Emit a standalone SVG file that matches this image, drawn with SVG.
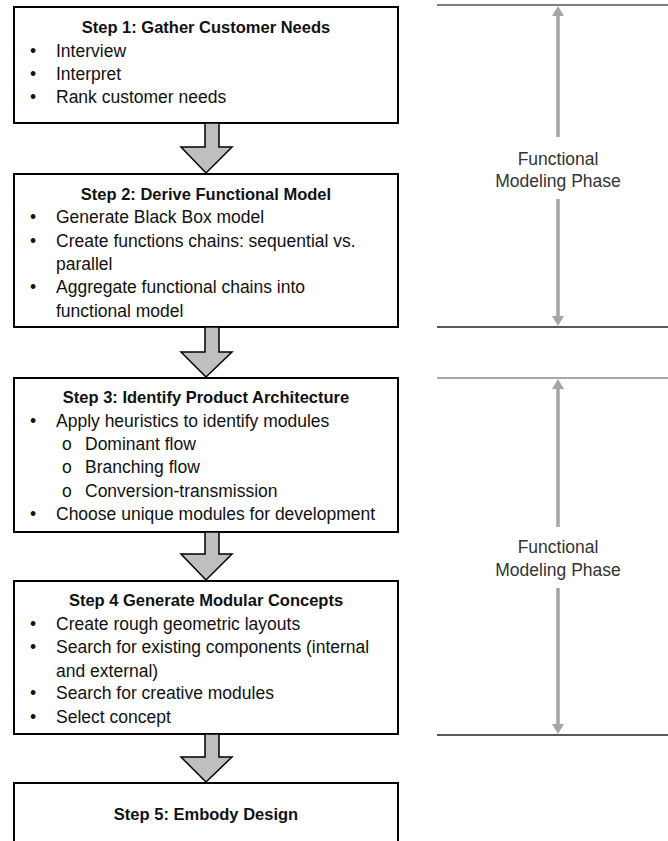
<svg xmlns="http://www.w3.org/2000/svg" width="668" height="841" viewBox="0 0 668 841">
  <style>
    .box { fill: #ffffff; stroke: #000000; stroke-width: 2; }
    .hd { font-family: "Liberation Sans", Arial, sans-serif; font-weight: bold; font-size: 16.5px; fill: #111111; text-anchor: middle; }
    .tx { font-family: "Liberation Sans", Arial, sans-serif; font-size: 17.5px; fill: #111111; }
    .lbl { font-family: "Liberation Sans", Arial, sans-serif; font-size: 17.5px; fill: #333333; text-anchor: middle; }
    .flow { fill: #bfbfbf; stroke: #000000; stroke-width: 1.5; stroke-linejoin: miter; }
    .span { stroke: #a6a6a6; stroke-width: 3.5; fill: none; }
  </style>
  <defs>
    <!-- grey arrow tip for the phase span lines; tip sits 4px past the line end -->
    <marker id="tip" viewBox="0 0 10 12" refX="6" refY="6" markerWidth="10" markerHeight="12" markerUnits="userSpaceOnUse" orient="auto">
      <path d="M0,0 L10,6 L0,12 Z" fill="#a6a6a6"/>
    </marker>
  </defs>
  <rect width="668" height="841" fill="#ffffff"/>

  <!-- Step boxes -->
  <g id="step1">
    <rect class="box" x="14" y="7" width="384" height="116"/>
    <text class="hd" x="206" y="33">Step 1: Gather Customer Needs</text>
    <text class="tx" x="30" y="57">•</text><text class="tx" x="56" y="57">Interview</text>
    <text class="tx" x="30" y="80">•</text><text class="tx" x="56" y="80">Interpret</text>
    <text class="tx" x="30" y="103">•</text><text class="tx" x="56" y="103">Rank customer needs</text>
  </g>

  <g id="step2">
    <rect class="box" x="14" y="174" width="384" height="153"/>
    <text class="hd" x="206" y="200">Step 2: Derive Functional Model</text>
    <text class="tx" x="30" y="223">•</text><text class="tx" x="56" y="223">Generate Black Box model</text>
    <text class="tx" x="30" y="247">•</text><text class="tx" x="56" y="247">Create functions chains: sequential vs.</text>
    <text class="tx" x="56" y="270">parallel</text>
    <text class="tx" x="30" y="293">•</text><text class="tx" x="56" y="293">Aggregate functional chains into</text>
    <text class="tx" x="56" y="317">functional model</text>
  </g>

  <g id="step3">
    <rect class="box" x="14" y="378" width="384" height="154"/>
    <text class="hd" x="206" y="403">Step 3: Identify Product Architecture</text>
    <text class="tx" x="30" y="427">•</text><text class="tx" x="56" y="427">Apply heuristics to identify modules</text>
    <text class="tx" x="62" y="450">o</text><text class="tx" x="85" y="450">Dominant flow</text>
    <text class="tx" x="62" y="473">o</text><text class="tx" x="85" y="473">Branching flow</text>
    <text class="tx" x="62" y="497">o</text><text class="tx" x="85" y="497">Conversion-transmission</text>
    <text class="tx" x="30" y="520">•</text><text class="tx" x="56" y="520">Choose unique modules for development</text>
  </g>

  <g id="step4">
    <rect class="box" x="14" y="581" width="384" height="153"/>
    <text class="hd" x="206" y="606">Step 4 Generate Modular Concepts</text>
    <text class="tx" x="30" y="630">•</text><text class="tx" x="56" y="630">Create rough geometric layouts</text>
    <text class="tx" x="30" y="653">•</text><text class="tx" x="56" y="653">Search for existing components (internal</text>
    <text class="tx" x="56" y="677">and external)</text>
    <text class="tx" x="30" y="699">•</text><text class="tx" x="56" y="699">Search for creative modules</text>
    <text class="tx" x="30" y="723">•</text><text class="tx" x="56" y="723">Select concept</text>
  </g>

  <g id="step5">
    <rect class="box" x="14" y="783" width="384" height="80"/>
    <text class="hd" x="206" y="820">Step 5: Embody Design</text>
  </g>

  <!-- Flow arrows between steps -->
  <g id="connectors">
    <path class="flow" d="M205,123 L219,123 L219,147 L232,147 L206,173 L181,147 L205,147 Z"/>
    <path class="flow" d="M205,327 L219,327 L219,352 L232,352 L206,377 L181,352 L205,352 Z"/>
    <path class="flow" d="M205,532 L219,532 L219,554 L232,554 L206,580 L181,554 L205,554 Z"/>
    <path class="flow" d="M205,734 L219,734 L219,757 L232,757 L206,782 L181,757 L205,757 Z"/>
  </g>

  <!-- Phase brackets -->
  <g id="phase1">
    <line x1="437" y1="5" x2="668" y2="5" stroke="#555555" stroke-width="1.5"/>
    <line x1="437" y1="327" x2="668" y2="327" stroke="#222222" stroke-width="1.5"/>
    <line class="span" x1="558" y1="137" x2="558" y2="10" marker-end="url(#tip)"/>
    <line class="span" x1="558" y1="199" x2="558" y2="322" marker-end="url(#tip)"/>
    <text class="lbl" x="558" y="165">Functional</text>
    <text class="lbl" x="558" y="187">Modeling Phase</text>
  </g>

  <g id="phase2">
    <line x1="437" y1="378" x2="668" y2="378" stroke="#8c8c8c" stroke-width="1.5"/>
    <line x1="437" y1="735" x2="668" y2="735" stroke="#222222" stroke-width="1.5"/>
    <line class="span" x1="558" y1="527" x2="558" y2="383" marker-end="url(#tip)"/>
    <line class="span" x1="558" y1="588" x2="558" y2="730" marker-end="url(#tip)"/>
    <text class="lbl" x="558" y="553">Functional</text>
    <text class="lbl" x="558" y="576">Modeling Phase</text>
  </g>
</svg>
